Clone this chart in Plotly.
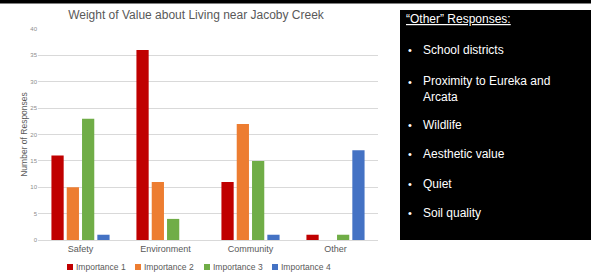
import plotly.graph_objects as go

categories = ["Safety", "Environment", "Community", "Other"]
importance_1 = [16, 36, 11, 1]
importance_2 = [10, 11, 22, 0]
importance_3 = [23, 4, 15, 1]
importance_4 = [1, 0, 1, 17]
series_names = ["Importance 1", "Importance 2", "Importance 3", "Importance 4"]
series_colors = ["#C00000", "#ED7D31", "#70AD47", "#4472C4"]
y_ticks = [0, 5, 10, 15, 20, 25, 30, 35, 40]
title_text = "Weight of Value about Living near Jacoby Creek"
y_title = "Number of Responses"
box_header = "“Other” Responses:"
other_items = ["School districts", "Proximity to Eureka and<br>Arcata", "Wildlife",
               "Aesthetic value", "Quiet", "Soil quality"]

W_FIG, H_FIG = 591, 274
L, R, T, B = 38, 213, 29, 34
PW = W_FIG - L - R
PH = H_FIG - T - B


def px_x(px):
    return (px - L) / PW


def px_y(py):
    return (H_FIG - B - py) / PH


FONT = "Liberation Sans, Arial, sans-serif"

fig = go.Figure()
for name, vals, col in zip(series_names, [importance_1, importance_2, importance_3, importance_4], series_colors):
    fig.add_trace(go.Bar(x=categories, y=vals, name=name, showlegend=False,
                         marker=dict(color=col, line=dict(width=0))))

shapes = [
    dict(type="rect", xref="paper", yref="paper", x0=px_x(0), x1=px_x(591), y0=px_y(3.5), y1=px_y(0),
         fillcolor="black", line=dict(width=0), layer="above"),
    dict(type="rect", xref="paper", yref="paper", x0=px_x(400), x1=px_x(591), y0=px_y(240), y1=px_y(10),
         fillcolor="black", line=dict(width=0), layer="above"),
]

annotations = [
    dict(text="<u>" + box_header + "</u>", xref="paper", yref="paper", x=px_x(404), y=px_y(19),
         xanchor="left", yanchor="middle", showarrow=False, font=dict(family=FONT, size=12, color="white")),
]
item_y = [50, 89, 125, 154, 184, 213]
for txt, yy in zip(other_items, item_y):
    first_line_y = yy
    if "<br>" in txt:
        first_line_y = yy - 7
    annotations.append(dict(text="•", xref="paper", yref="paper", x=px_x(406), y=px_y(first_line_y),
                            xanchor="left", yanchor="middle", showarrow=False,
                            font=dict(family=FONT, size=11, color="white")))
    annotations.append(dict(text=txt, xref="paper", yref="paper", x=px_x(421), y=px_y(yy),
                            xanchor="left", yanchor="middle", showarrow=False, align="left",
                            font=dict(family=FONT, size=12, color="white")))

# legend drawn as colored squares + labels
legend_x = [67, 135, 204, 272]
legend_y = 267
for name, col, lx in zip(series_names, series_colors, legend_x):
    shapes.append(dict(type="rect", xref="paper", yref="paper", x0=px_x(lx), x1=px_x(lx + 6),
                       y0=px_y(legend_y + 3), y1=px_y(legend_y - 3), fillcolor=col, line=dict(width=0)))
    annotations.append(dict(text=name, xref="paper", yref="paper", x=px_x(lx + 7), y=px_y(legend_y),
                            xanchor="left", yanchor="middle", showarrow=False,
                            font=dict(family=FONT, size=8.5, color="#595959")))

fig.update_layout(
    width=W_FIG, height=H_FIG,
    margin=dict(l=L, r=R, t=T, b=B, pad=0, autoexpand=False),
    paper_bgcolor="white", plot_bgcolor="white",
    barmode="group", bargap=0.28, bargroupgap=0.2,
    showlegend=False,
    title=dict(text=title_text, xref="container", x=196 / W_FIG, xanchor="center",
               yref="container", y=1 - 15 / H_FIG, yanchor="middle",
               font=dict(family=FONT, size=12, color="#595959")),
    font=dict(family=FONT, color="#595959"),
    xaxis=dict(showgrid=False, showline=True, linecolor="#d9d9d9", linewidth=1, ticks="",
               tickfont=dict(size=9, color="#595959")),
    yaxis=dict(range=[0, 40], tickvals=y_ticks, showgrid=True, gridcolor="#d9d9d9", gridwidth=1,
               zeroline=False, showline=False, ticks="", tickfont=dict(size=6, color="#8c8c8c"),
               title=dict(text=y_title, font=dict(size=8.5, color="#595959"), standoff=1)),
    shapes=shapes,
    annotations=annotations,
)

fig.write_html("out.html", config={"displayModeBar": False},
               post_script="document.body.style.margin='0';document.body.style.overflow='hidden';")
